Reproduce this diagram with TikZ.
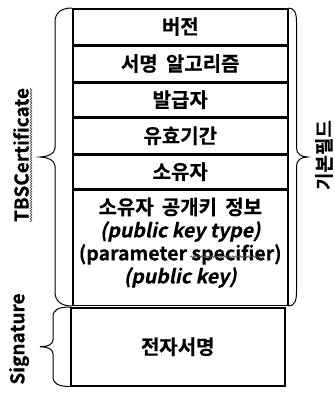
\documentclass[tikz,border=0pt]{standalone}
\usepackage{fontspec}
\setmainfont{Noto Sans CJK KR Bold}[FakeBold=0.4]
\newfontfamily\krwide{Noto Sans CJK KR Bold}[WordSpace=1.8, FakeBold=0.4]
\newfontfamily\krit{Noto Sans CJK KR Bold}[FakeSlant=0.2, FakeBold=0.3]
\usetikzlibrary{calc,decorations.pathmorphing}
\begin{document}
\begin{tikzpicture}[x=1pt,y=-1pt,
  fld/.style={draw, line width=1.5pt, inner sep=0pt, align=center, minimum width=215pt, anchor=north west, font=\krwide\fontsize{20}{23}\selectfont},
  txt/.style={inner sep=0pt, align=center, font=\krwide\fontsize{20}{23}\selectfont},
  brc/.style={draw, line width=1pt},
  wavy/.style={draw=black!70, line width=0.6pt, decorate, decoration={snake, amplitude=0.9pt, segment length=2.6pt}},
  lbl/.style={inner sep=0pt, rotate=90, font=\fontsize{19}{19}\selectfont}]
\useasboundingbox (0,0) rectangle (335,394);
\node[fld, minimum height=35.5pt] (r1) at (72,8) {버전};
\node[fld, minimum height=35.5pt] (r2) at (r1.south west) {서명 알고리즘};
\node[fld, minimum height=34pt] (r3) at (r2.south west) {발급자};
\node[fld, minimum height=35pt] (r4) at (r3.south west) {유효기간};
\node[fld, minimum height=34pt] (r5) at (r4.south west) {소유자};
\node[fld, minimum height=115pt] (r6) at (r5.south west) {};
\node[txt] (r6t) at ($(r6.center)+(0,-5)$) {소유자 공개키 정보\\{\krit\fontsize{19.5}{23}\selectfont (public key type)}\\{\rmfamily\fontsize{19.5}{23}\selectfont (parameter specifier)}\\{\krit\fontsize{19.5}{23}\selectfont (public key)}};
\draw[line width=2.6pt] (r1.south west) -- (r1.south east);
\node[fld, minimum width=214pt, minimum height=78pt] (sig) at (70,307) {전자서명};

\node[lbl] (tbs) at (21,155) {TBSCertificate};
\node[lbl] (sg) at (19,339) {Signature};
\node[lbl] (basic) at (324,155) {기본필드};

\draw[wavy] ($(tbs.south west)+(2,0)$) -- ($(tbs.south east)+(2,0)$);
\draw[wavy] ($(r6t.center)+(10,14)$) -- ($(r6t.center)+(84,14)$);

\coordinate (tipL) at ($(r1.north west)!0.5!(r6.south west)+(-32,0)$);
\draw[brc] (r1.north west) .. controls +(-11,0) and +(0,-9) .. ($(r1.north west)+(-17,14)$)
  -- ($(tipL)+(15,-9)$) .. controls +(0,6) and +(7,0) .. (tipL)
  .. controls +(7,0) and +(0,-6) .. ($(tipL)+(15,9)$)
  -- ($(r6.south west)+(-17,-14)$) .. controls +(0,9) and +(-11,0) .. (r6.south west);

\coordinate (tipS) at ($(sig.north west)!0.5!(sig.south west)+(-30,0)$);
\draw[brc] (sig.north west) .. controls +(-12,0) and +(0,-7) .. ($(sig.north west)+(-17,10)$)
  -- ($(tipS)+(13,-7)$) .. controls +(0,5) and +(7,0) .. (tipS)
  .. controls +(7,0) and +(0,-5) .. ($(tipS)+(13,7)$)
  -- ($(sig.south west)+(-17,-10)$) .. controls +(0,7) and +(-12,0) .. (sig.south west);

\coordinate (tipR) at ($(r1.north east)!0.5!(r6.south east)+(19,0)$);
\draw[brc] (r1.north east) .. controls +(6,0) and +(0,-9) .. ($(r1.north east)+(8,14)$)
  -- ($(tipR)+(-11,-9)$) .. controls +(0,6) and +(-6,0) .. (tipR)
  .. controls +(-6,0) and +(0,-6) .. ($(tipR)+(-11,9)$)
  -- ($(r6.south east)+(8,-14)$) .. controls +(0,9) and +(6,0) .. (r6.south east);
\end{tikzpicture}
\end{document}
